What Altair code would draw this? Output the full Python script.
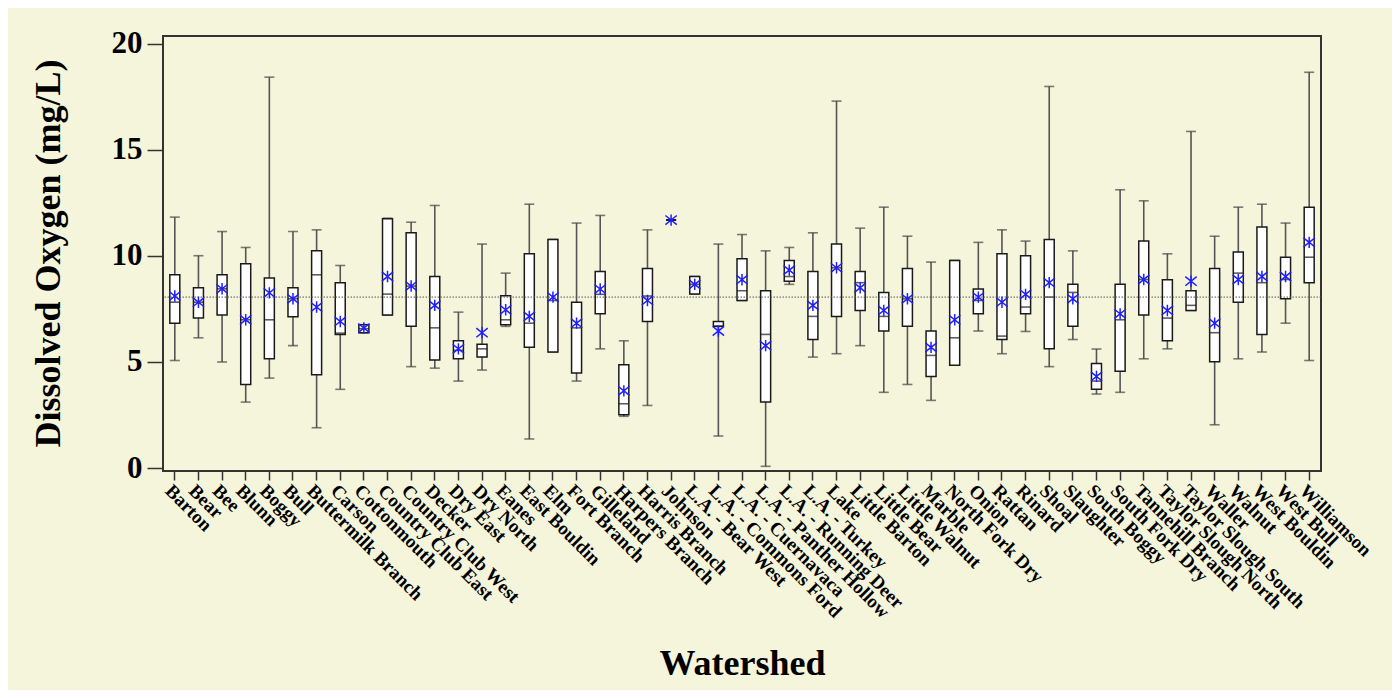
import altair as alt
import pandas as pd

categories = ["Barton", "Bear", "Bee", "Blunn", "Boggy", "Bull", "Buttermilk Branch", "Carson",
              "Cottonmouth", "Country Club East", "Country Club West", "Decker", "Dry East", "Dry North",
              "Eanes", "East Bouldin", "Elm", "Fort Branch", "Gilleland", "Harpers Branch",
              "Harris Branch", "Johnson", "L.A. - Bear West", "L.A. - Commons Ford", "L.A. - Cuernavaca",
              "L.A. - Panther Hollow", "L.A. - Running Deer", "L.A. - Turkey", "Lake", "Little Barton",
              "Little Bear", "Little Walnut", "Marble", "North Fork Dry", "Onion", "Rattan", "Rinard",
              "Shoal", "Slaughter", "South Boggy", "South Fork Dry", "Tannehill Branch",
              "Taylor Slough North", "Taylor Slough South", "Waller", "Walnut", "West Bouldin",
              "West Bull", "Williamson"]

whisker_low = [5.07, 6.14, 5.00, 3.11, 4.24, 5.77, 1.90, 3.71, 6.38, 7.21, 4.78, 4.71, 4.10, 4.62,
               6.68, 1.37, 5.47, 4.10, 5.62, 2.44, 2.95, 11.69, 8.20, 1.51, 7.90, 0.08, 8.66, 5.23,
               5.39, 5.77, 3.57, 3.94, 3.19, 4.85, 6.46, 5.39, 6.44, 4.78, 6.06, 3.49, 3.57, 5.15,
               5.62, 7.43, 2.04, 5.15, 5.47, 6.83, 5.07]
q1 = [6.83, 7.07, 7.21, 3.94, 5.15, 7.13, 4.40, 6.30, 6.38, 7.21, 6.68, 5.09, 5.15, 5.23,
      6.76, 5.70, 5.47, 4.48, 7.27, 2.51, 6.91, 11.69, 8.20, 6.68, 7.90, 3.11, 8.81, 6.06,
      7.15, 7.43, 6.46, 6.68, 4.32, 4.85, 7.27, 6.06, 7.27, 5.62, 6.68, 3.71, 4.56, 7.21,
      6.00, 7.43, 5.01, 7.82, 6.30, 7.98, 8.74]
median = [7.82, 7.82, 8.45, 6.99, 6.99, 7.98, 9.11, 6.36, 6.57, 8.20, 8.58, 6.61, 5.55, 5.62,
          6.99, 6.83, 7.90, 6.61, 8.19, 3.03, 8.11, 11.69, 8.66, 6.68, 8.36, 6.30, 9.03, 7.15,
          9.44, 8.74, 7.15, 7.98, 5.31, 6.14, 7.90, 6.22, 7.59, 8.06, 8.28, 4.10, 6.99, 8.89,
          7.07, 7.67, 6.38, 9.19, 8.74, 8.89, 9.94]
q3 = [9.11, 8.50, 9.11, 9.63, 8.96, 8.50, 10.24, 8.74, 6.76, 11.75, 11.09, 9.03, 6.00, 5.84,
      8.12, 10.10, 10.78, 7.82, 9.27, 4.87, 9.41, 11.69, 9.03, 6.91, 9.87, 8.36, 9.79, 9.27,
      10.56, 9.27, 8.28, 9.41, 6.46, 9.79, 8.44, 10.10, 10.01, 10.78, 8.66, 4.93, 8.66, 10.70,
      8.88, 8.36, 9.41, 10.18, 11.37, 9.94, 12.30]
whisker_high = [11.83, 10.01, 11.15, 10.40, 18.43, 11.15, 11.23, 9.55, 6.76, 11.78, 11.59, 12.38, 7.35, 10.56,
                9.19, 12.44, 10.78, 11.55, 11.91, 6.00, 11.23, 11.69, 9.03, 10.56, 11.01, 10.24, 10.40, 11.09,
                17.30, 11.31, 12.30, 10.93, 9.71, 9.79, 10.64, 11.23, 10.70, 17.99, 10.24, 5.61, 13.12, 12.60,
                10.10, 15.87, 10.93, 12.30, 12.44, 11.55, 18.66]
mean = [8.11, 7.82, 8.45, 6.99, 8.26, 7.98, 7.59, 6.91, 6.60, 9.03, 8.58, 7.67, 5.62, 6.38,
        7.46, 7.15, 8.06, 6.83, 8.44, 3.64, 7.90, 11.69, 8.66, 6.46, 8.88, 5.77, 9.33, 7.67,
        9.44, 8.50, 7.43, 7.98, 5.69, 6.99, 8.06, 7.82, 8.19, 8.74, 7.98, 4.32, 7.27, 8.89,
        7.43, 8.81, 6.83, 8.89, 9.03, 9.03, 10.64]
overall_mean = [8.06]

df = pd.DataFrame({
    "Watershed": categories,
    "low": whisker_low,
    "q1": q1,
    "median": median,
    "q3": q3,
    "high": whisker_high,
    "mean": mean,
})
ref_df = pd.DataFrame({"ref": overall_mean})

FONT = "Liberation Serif"

x_enc = alt.X(
    "Watershed:N",
    sort=categories,
    scale=alt.Scale(paddingInner=0, paddingOuter=0),
    axis=alt.Axis(
        title="Watershed",
        labelAngle=45,
        labelAlign="left",
        labelBaseline="top",
        labelFont=FONT,
        labelFontWeight="bold",
        labelFontSize=19,
        labelColor="black",
        labelPadding=1,
        labelOverlap=False,
        tickSize=9,
        tickColor="#333",
        tickWidth=1.5,
        domain=False,
        titleFont=FONT,
        titleFontWeight="bold",
        titleFontSize=36,
        titleColor="black",
        titleBaseline="alphabetic",
        titleY=203,
    ),
)

y_scale = alt.Scale(domain=[-0.14, 20.37], nice=False, zero=False)
y_axis = alt.Axis(
    title="Dissolved Oxygen (mg/L)",
    values=[0, 5, 10, 15, 20],
    grid=False,
    domain=False,
    labelFont=FONT,
    labelFontWeight="bold",
    labelFontSize=31,
    labelColor="black",
    labelPadding=5,
    tickSize=16,
    tickColor="#333",
    tickWidth=1.5,
    titleFont=FONT,
    titleFontWeight="bold",
    titleFontSize=36,
    titleColor="black",
    titleBaseline="alphabetic",
    titleX=-104,
    titleY=217,
    titleAngle=-90,
)

base = alt.Chart(df).encode(x=x_enc)

whiskers = base.mark_rule(color="#555", strokeWidth=1.6).encode(
    y=alt.Y("low:Q", scale=y_scale, axis=y_axis),
    y2="high:Q",
)
cap_low = base.mark_tick(color="#444", size=10, thickness=1.6).encode(y="low:Q")
cap_high = base.mark_tick(color="#444", size=10, thickness=1.6).encode(y="high:Q")
boxes = base.mark_bar(size=10, fill="white", stroke="#1a1a1a", strokeWidth=1.5).encode(
    y="q1:Q", y2="q3:Q"
)
medians = base.mark_tick(color="#1a1a1a", size=10, thickness=1.6).encode(y="median:Q")

ref = alt.Chart(ref_df).mark_rule(color="#555", strokeDash=[1.5, 1.5], strokeWidth=1).encode(
    y="ref:Q"
)

star = "M-1,-0.8L1,0.8M-1,0.8L1,-0.8M0,-1L0,1"
means = base.mark_point(shape=star, size=130, filled=False, color="#1f1fff", strokeWidth=1.5,
                        opacity=1).encode(
    y="mean:Q"
)

chart = alt.layer(whiskers, cap_low, cap_high, boxes, medians, ref, means).properties(
    width=1158,
    height=435,
    autosize=alt.AutoSizeParams(type="none"),
    padding={"left": 155, "top": 28, "right": 71, "bottom": 219},
    background="#F5F5DC",
).configure_view(stroke="#333", strokeWidth=2)

chart.save("out.html", embed_options={"renderer": "svg", "actions": False})
